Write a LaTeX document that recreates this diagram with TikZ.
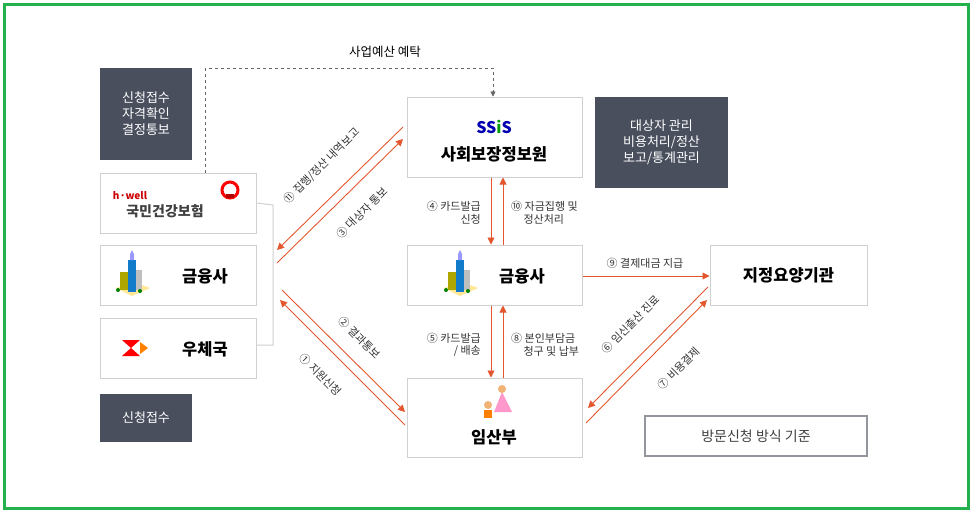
\documentclass[tikz,border=0pt]{standalone}
\usepackage{fontspec}
\setmainfont{Noto Sans CJK KR}
\usetikzlibrary{arrows.meta}
\definecolor{ar}{HTML}{E4572E}
\definecolor{dk}{HTML}{4A4F5E}
\definecolor{gb}{HTML}{22B14C}
\definecolor{bx}{HTML}{D0D0D0}
\tikzset{
 box/.style={draw=bx,line width=1pt,fill=white},
 dark/.style={fill=dk,text=white,font=\fontsize{13}{16}\selectfont,align=center},
 title/.style={font=\fontsize{16.5}{18}\selectfont\bfseries},
 lab/.style={font=\fontsize{11}{12.5}\selectfont,text=black!80,inner sep=1pt},
 arr/.style={draw=ar,line width=0.9pt,-{Triangle[length=7pt,width=7pt]}},
}
\newcommand{\bldg}[1]{%
 \begin{scope}[shift={#1}]
  \fill[yellow!60!orange!40] (-16,8) -- (0,16) -- (18,8) -- (2,2) -- cycle;
  \fill[olive!70!yellow] (-12,-8) rectangle (-4,10);
  \fill[cyan!60!blue] (-4,-20) rectangle (4,12);
  \fill[blue!40] (-2,-26) -- (0,-30) -- (2,-26) -- (2,-20) -- (-2,-20) -- cycle;
  \fill[gray!50] (4,-10) rectangle (10,10);
  \fill[green!50!black] (-14,10) circle (2) (8,11) circle (2);
 \end{scope}}
\begin{document}
\begin{tikzpicture}[x=1pt,y=-1pt]
\useasboundingbox (0,0) rectangle (974,512);
\draw[gb,line width=3pt] (4,4) rectangle (968,508);
% dark boxes
\node[dark,minimum width=92pt,minimum height=92pt] (d1) at (146,114) {신청접수\\자격확인\\결정통보};
\node[dark,minimum width=92pt,minimum height=48pt] (d2) at (146,418) {신청접수};
\node[dark,minimum width=133pt,minimum height=91pt] (d3) at (661.5,142.5) {대상자 관리\\비용처리/정산\\보고/통계관리};
% left boxes
\node[box,minimum width=156pt,minimum height=60pt] (nh) at (178,203) {};
\node[font=\fontsize{14}{15}\selectfont\bfseries, text=black!75] at (165,211) {국민건강보험};
\node[font=\fontsize{10}{10}\selectfont\bfseries\itshape,text=red!80!black] at (130,196) {h·well};
\draw[red,line width=3pt] (230,190) circle (8);
\fill[red!70!black] (226,194) rectangle (234,198);
\node[box,minimum width=156pt,minimum height=60pt] (f1) at (178,275) {};
\bldg{(132,280)}
\node[title] at (205,276) {금융사};
\node[box,minimum width=156pt,minimum height=60pt] (po) at (178,348) {};
\fill[red] (122,340) -- (140,340) -- (131,348) -- cycle (122,356) -- (140,356) -- (131,348) -- cycle;
\fill[orange] (140,342) -- (148,348) -- (140,354) -- cycle;
\node[title] at (205,349) {우체국};
% center boxes
\node[box,minimum width=175pt,minimum height=80pt] (ss) at (494.5,137) {};
\node[font=\fontsize{16}{16}\selectfont\bfseries\itshape,text=blue!70!black] at (494,127) {SS\textcolor{green!60!black}{i}S};
\node[title] at (494,154) {사회보장정보원};
\node[box,minimum width=175pt,minimum height=60pt] (f2) at (494.5,275) {};
\bldg{(460,280)}
\node[title] at (522,276) {금융사};
\node[box,minimum width=175pt,minimum height=79pt] (pr) at (494.5,417.5) {};
\fill[pink!80!magenta] (502,392) -- (494,412) -- (512,412) -- cycle;
\fill[orange!60!brown!60] (502,389) circle (4);
\fill[orange] (484,410) rectangle (492,418);
\fill[orange!60!brown!60] (488,405) circle (4);
\node[title] at (494,437) {임산부};
\node[box,minimum width=157pt,minimum height=60pt] (hp) at (788.5,275) {};
\node[title] at (788.5,275) {지정요양기관};
\node[draw=dk!60,line width=1.5pt,fill=white,minimum width=222pt,minimum height=40pt,font=\fontsize{14}{16}\selectfont,text=black!75] (vb) at (756,436) {방문신청 방식 기준};
% dashed
\coordinate (c1) at (205,68); \coordinate (c2) at (493,68);
\draw[dashed,gray!80!black,-{Triangle[length=5pt,width=5pt]}] (nh.north-|c1) -- (c1) -- (c2) -- (ss.north-|c2);
\node[font=\fontsize{12.5}{14}\selectfont] at (385,52) {사업예산 예탁};
% bracket
\coordinate (k1) at (273,205); \coordinate (k2) at (273,345);
\draw[bx,line width=1pt] (nh.east) -- (k1) -- (k2) -- (po.east|-k2);
% arrows
\coordinate (a1) at (403,127); \coordinate (a2) at (277,250);
\coordinate (a3) at (277,263); \coordinate (a4) at (403,139);
\draw[arr] (a1) -- (a2);
\draw[arr] (a3) -- (a4);
\node[lab,rotate=45] at (322,166) {⑪ 집행/정산 내역보고};
\node[lab,rotate=45] at (362,213) {③ 대상자 통보};
\coordinate (b1) at (282,290); \coordinate (b2) at (405,412);
\coordinate (b3) at (405,425); \coordinate (b4) at (280,300);
\draw[arr] (b1) -- (b2);
\draw[arr] (b3) -- (b4);
\node[lab,rotate=-45] at (360,338) {② 결과통보};
\node[lab,rotate=-45] at (321,375) {① 지원신청};
\coordinate (xl) at (491,0); \coordinate (xr) at (503,0); \coordinate (yh) at (0,276);
\draw[arr] (ss.south-|xl) -- (f2.north-|xl);
\draw[arr] (f2.north-|xr) -- (ss.south-|xr);
\draw[arr] (f2.south-|xl) -- (pr.north-|xl);
\draw[arr] (pr.north-|xr) -- (f2.south-|xr);
\node[lab,align=right,anchor=east] at (482,213) {④ 카드발급\\신청};
\node[lab,align=left,anchor=west] at (510,213) {⑩ 자금집행 및\\\ \ \ \ \ 정산처리};
\node[lab,align=right,anchor=east] at (482,345) {⑤ 카드발급\\/ 배송};
\node[lab,align=left,anchor=west] at (510,345) {⑧ 본인부담금\\\ \ \ \ \ 청구 및 납부};
\draw[arr] (f2.east|-yh) -- (hp.west|-yh);
\node[lab] at (645,263) {⑨ 결제대금 지급};
\coordinate (e1) at (708,287); \coordinate (e2) at (588,408);
\coordinate (e3) at (586,423); \coordinate (e4) at (707,300);
\draw[arr] (e1) -- (e2);
\draw[arr] (e3) -- (e4);
\node[lab,rotate=45] at (631,324) {⑥ 임신출산 진료};
\node[lab,rotate=45] at (679,368) {⑦ 비용결제};
\end{tikzpicture}
\end{document}
